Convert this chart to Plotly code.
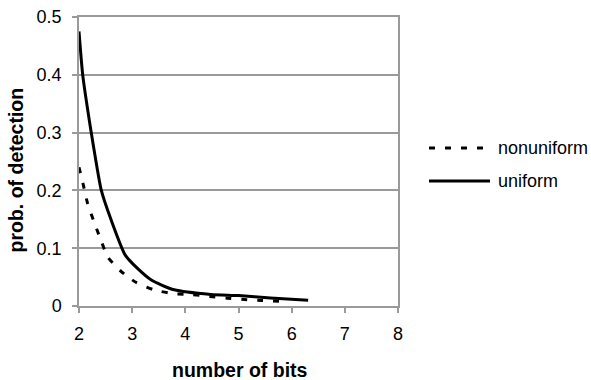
import plotly.graph_objects as go

# uniform quantization
uniform_bits = [2.0, 2.07, 2.23, 2.32, 2.42, 2.6, 2.87, 3.1, 3.36, 3.79, 4.48, 5.0, 5.6, 6.31]
uniform_prob = [0.475, 0.40, 0.30, 0.25, 0.20, 0.15, 0.088, 0.065, 0.045, 0.028, 0.020, 0.018, 0.014, 0.010]

# nonuniform quantization
nonuniform_bits = [2.0, 2.08, 2.16, 2.28, 2.40, 2.54, 2.79, 3.07, 3.41, 3.79, 4.1, 4.45, 4.79, 5.16, 5.44, 5.85]
nonuniform_prob = [0.24, 0.21, 0.178, 0.146, 0.117, 0.085, 0.060, 0.041, 0.028, 0.021, 0.020, 0.0165, 0.0136, 0.011, 0.0096, 0.0078]

series_names = ["nonuniform", "uniform"]
x_ticks = [2, 3, 4, 5, 6, 7, 8]
y_ticks = [0, 0.1, 0.2, 0.3, 0.4, 0.5]
y_tick_labels = ["0", "0.1", "0.2", "0.3", "0.4", "0.5"]
x_title = "number of bits"
y_title = "prob. of detection"

FONT = "Liberation Sans, Arial, sans-serif"
GRID = "#9a9a9a"
DASH = "6px,10px"

fig = go.Figure()
fig.add_trace(go.Scatter(
    x=nonuniform_bits, y=nonuniform_prob, mode="lines", name=series_names[0],
    line=dict(color="black", width=3, dash=DASH, shape="spline", smoothing=0.6),
))
fig.add_trace(go.Scatter(
    x=uniform_bits, y=uniform_prob, mode="lines", name=series_names[1],
    line=dict(color="black", width=3, shape="spline", smoothing=0.6),
))

# Legend drawn to match the original (long line samples)
leg_y = [0.5467, 0.4325]
leg_dash = [DASH, "solid"]
for name, yy, dd in zip(series_names, leg_y, leg_dash):
    fig.add_shape(type="line", xref="paper", yref="paper",
                  x0=1.0972, x1=1.2884, y0=yy, y1=yy,
                  line=dict(color="black", width=3, dash=dd))
    fig.add_annotation(text=name, xref="paper", yref="paper",
                       x=1.307, y=yy, xanchor="left", yanchor="middle",
                       showarrow=False, font=dict(family=FONT, size=18, color="black"))

# Axis titles
fig.add_annotation(text="<b>%s</b>" % y_title, xref="paper", yref="paper",
                   x=-0.1975, y=0.4723, xanchor="center", yanchor="middle",
                   textangle=-90, showarrow=False,
                   font=dict(family=FONT, size=19.5, color="black"))
fig.add_annotation(text="<b>%s</b>" % x_title, xref="paper", yref="paper",
                   x=0.5047, y=-0.2215, xanchor="center", yanchor="middle",
                   showarrow=False,
                   font=dict(family=FONT, size=19.5, color="black"))

fig.update_layout(
    width=591, height=380,
    margin=dict(l=79, r=193, t=17, b=74, autoexpand=False),
    plot_bgcolor="white", paper_bgcolor="white",
    font=dict(family=FONT, size=18, color="black"),
    showlegend=False,
    xaxis=dict(
        range=[2, 8], tickvals=x_ticks, ticktext=[str(v) for v in x_ticks],
        showgrid=False, zeroline=False, automargin=False,
        showline=True, linecolor=GRID, linewidth=1.5, mirror=True,
        ticks="outside", ticklen=5, tickcolor=GRID, tickwidth=1.5,
        ticklabelstandoff=6,
        tickfont=dict(family=FONT, size=18),
    ),
    yaxis=dict(
        range=[0, 0.5], tickvals=y_ticks, ticktext=y_tick_labels,
        showgrid=True, gridcolor=GRID, gridwidth=1.5, zeroline=False, automargin=False,
        showline=True, linecolor=GRID, linewidth=1.5, mirror=True,
        ticks="outside", ticklen=5, tickcolor=GRID, tickwidth=1.5,
        ticklabelstandoff=7,
        tickfont=dict(family=FONT, size=18),
    ),
)

fig.write_html("out.html",
               config={"displayModeBar": False},
               post_script="document.body.style.margin='0px';document.body.style.overflow='hidden';")
